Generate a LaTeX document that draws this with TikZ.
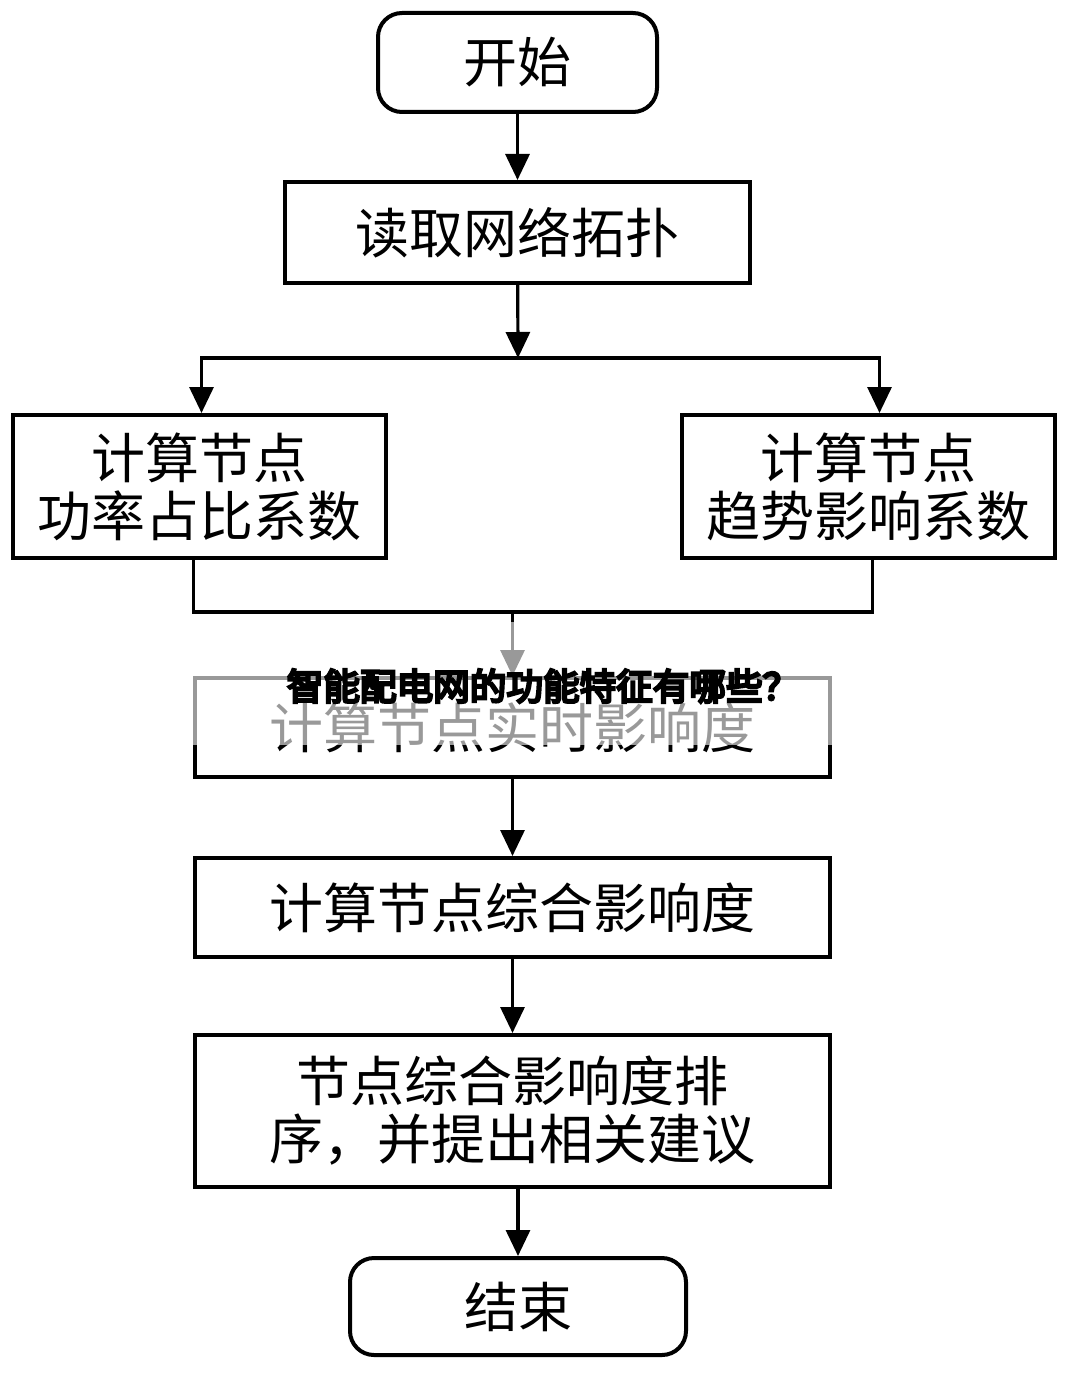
\documentclass[tikz,border=0pt]{standalone}
\usepackage{fontspec}
\newfontfamily\cjk{Noto Sans CJK SC}
\newfontfamily\cjkbold[FakeBold=7]{Noto Sans CJK SC}
\usetikzlibrary{arrows.meta}
\usetikzlibrary{positioning}

\begin{document}
\begin{tikzpicture}[x=0.5pt,y=-0.5pt,>={Triangle[length=13pt,width=12pt]},
		line width=1.6pt,font=\cjk\fontsize{27}{29}\selectfont]
		\tikzstyle{box}=[draw,line width=2pt,inner sep=0pt,align=center]
		\tikzstyle{term}=[box,rounded corners=12pt]
		\useasboundingbox (0,0) rectangle (1080,1374);
		
		\node[term,minimum width=139.5pt,minimum height=49.5pt] (start) at (517.5,62.5)   {开始};
		\node[box,minimum width=232.5pt,minimum height=50.5pt]  (read)  at (517.5,232.5)  {读取网络拓扑};
		\node[box,minimum width=186.5pt,minimum height=71.5pt]  (ratio) at (199.5,486.5)  {计算节点\\功率占比系数};
		\node[box,minimum width=186.5pt,minimum height=71.5pt]  (trend) at (868.5,486.5)  {计算节点\\趋势影响系数};
		\node[box,minimum width=317.5pt,minimum height=49.5pt]  (real)  at (512.5,727.5)  {计算节点实时影响度};
		\node[box,minimum width=317.5pt,minimum height=49.5pt]  (total) at (512.5,907.5)  {计算节点综合影响度};
		\node[box,minimum width=317.5pt,minimum height=76pt]    (rank)  at (512.5,1111)   {节点综合影响度排\\序，并提出相关建议};
		\node[term,minimum width=168pt,minimum height=48.5pt]   (stop)  at (518,1306.5)   {结束};
		
		\coordinate (split) at (518,358);
		\coordinate (join)  at (512.5,612);
		
		\path[->] (start) edge (read)
		(read)  edge (split)
		(real)  edge (total)
		(total) edge (rank)
		(rank.south -| stop.north) edge (stop);
		\draw[->] (split) -| ([xshift=1pt]ratio.north);
		\draw[->] (split) -| ([xshift=5.5pt]trend.north);
		\draw ([xshift=-3pt]ratio.south) |- (join) -| ([xshift=2pt]trend.south);
		\draw[->] (join) -- (real);
		
		% overlay title
		\fill[white,opacity=0.6] (0,622) rectangle (1080,745);
		\node[font=\cjkbold\fontsize{18.3}{20}\selectfont,inner sep=0pt] (title) at (543,686) {智能配电网的功能特征有哪些？};
\end{tikzpicture}
\end{document}
